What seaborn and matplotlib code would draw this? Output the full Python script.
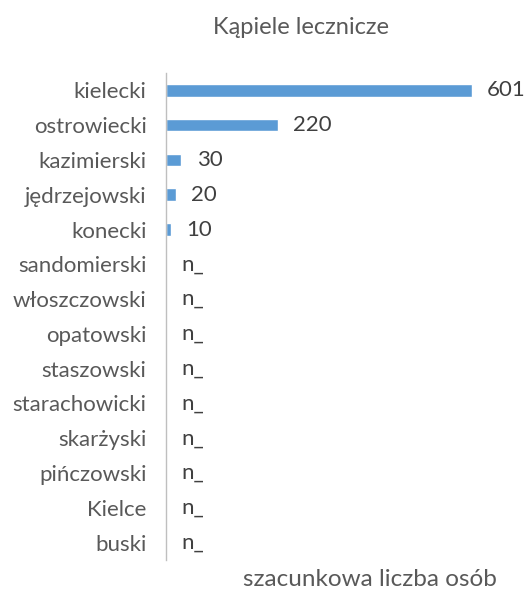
import matplotlib
matplotlib.use("Agg")
import matplotlib.pyplot as plt
import seaborn as sns
import pandas as pd

categories = ["kielecki", "ostrowiecki", "kazimierski", "jędrzejowski", "konecki",
              "sandomierski", "włoszczowski", "opatowski", "staszowski",
              "starachowicki", "skarżyski", "pińczowski", "Kielce", "buski"]
values = [601, 220, 30, 20, 10, 0, 0, 0, 0, 0, 0, 0, 0, 0]
value_labels = ["601", "220", "30", "20", "10", "n_", "n_", "n_", "n_",
                "n_", "n_", "n_", "n_", "n_"]
title = "Kąpiele lecznicze"
xlabel = "szacunkowa liczba osób"

sns.set_theme(style="white")
plt.rcParams['font.family'] = ['Lato', 'DejaVu Sans']

df = pd.DataFrame({"cat": categories, "val": values})

W, H = 527, 592
fig = plt.figure(figsize=(W / 100, H / 100), dpi=100)
ax = fig.add_axes([166 / W, 1 - 560 / H, (522 - 166) / W, (560 - 73) / H])

sns.barplot(data=df, y="cat", x="val", orient="h", color="#5B9BD5",
            saturation=1, width=0.36, ax=ax)
ax.set_xlim(0, 700)
ax.set_xlabel("")
ax.set_ylabel("")
ax.set_xticks([])
for s in ["top", "right", "bottom"]:
    ax.spines[s].set_visible(False)
ax.spines["left"].set_color("#BFBFBF")
ax.spines["left"].set_linewidth(1.0)
ax.tick_params(axis="y", length=0, pad=14, labelsize=16, labelcolor="#595959")

for i, (v, lab) in enumerate(zip(values, value_labels)):
    ax.annotate(lab, xy=(v, i), xytext=(11, 0), textcoords="offset points",
                ha="left", va="center", fontsize=16, color="#404040")

fig.text(301 / W, 1 - 27 / H, title, ha="center", va="center",
         fontsize=17, color="#595959")
fig.text(370 / W, 1 - 580 / H, xlabel, ha="center", va="center",
         fontsize=17.5, color="#595959")

fig.savefig("out.png", dpi=100)
